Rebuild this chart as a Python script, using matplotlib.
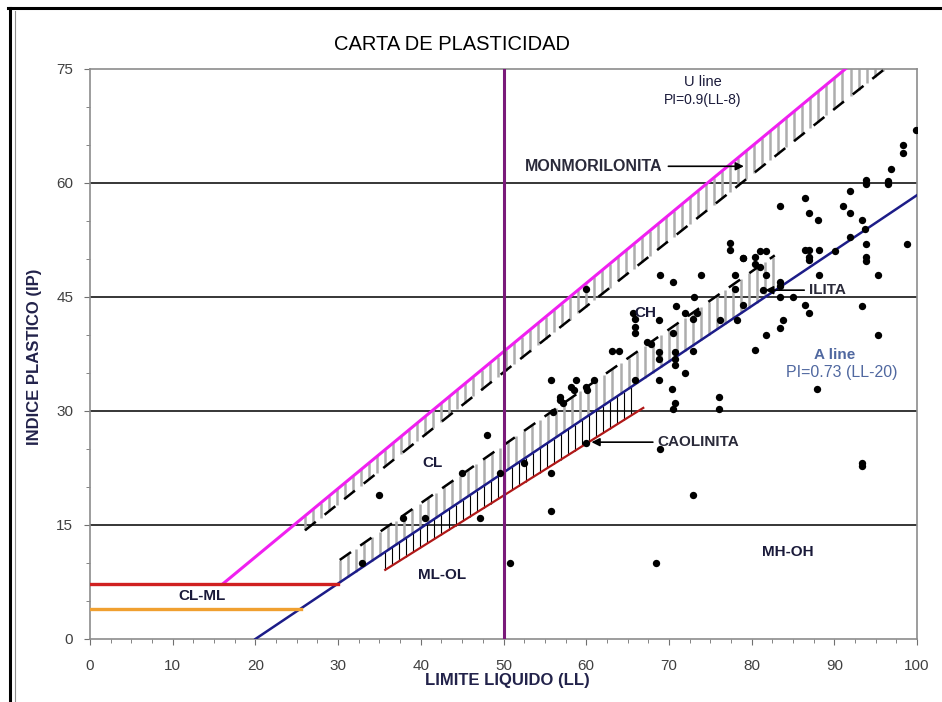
import numpy as np
import matplotlib
matplotlib.use("Agg")
import matplotlib.pyplot as plt
from matplotlib.lines import Line2D

plt.rcParams['font.family'] = ['Liberation Sans', 'DejaVu Sans']

# ---- chart data -------------------------------------------------------
title = "CARTA DE PLASTICIDAD"
x_label = "LIMITE LIQUIDO (LL)"
y_label = "INDICE PLASTICO (IP)"
x_ticks = [0, 10, 20, 30, 40, 50, 60, 70, 80, 90, 100]
y_ticks = [0, 15, 30, 45, 60, 75]
grid_levels = [15, 30, 45, 60]
ll_divider = 50

# Casagrande lines
u_slope, u_offset = 0.9, 8.0      # PI = 0.9 (LL - 8)
a_slope, a_offset = 0.73, 20.0    # PI = 0.73 (LL - 20)
clml_upper = 7.3
clml_lower = 4.0

# clay-mineral bands (start LL, end LL, PI at start, slope)
mont_band = (26.0, 97.1, 14.3, 0.866)   # lower dashed edge, below U line
ilita_band = (30.2, 82.8, 10.4, 0.762)  # upper dashed edge, above A line
caol_band = (35.7, 66.9, 9.1, 0.683)    # lower red edge, below A line

# soil samples: liquid limit and plasticity index
ll_values = [
    99.9, 98.3, 98.3, 96.9, 93.8, 93.8, 96.5, 96.5, 91.9, 86.5, 83.4, 91.0,
    86.9, 91.9, 88.0, 93.4, 93.7, 91.9, 93.8, 98.8, 93.8, 93.8, 95.3, 86.5,
    86.9, 88.1, 86.9, 87.0, 90.1, 88.1, 79.0, 80.4, 81.0, 81.8, 80.4, 81.0,
    77.4, 77.4, 78.9, 81.8, 83.4, 83.4, 83.4, 81.4, 85.0, 86.5, 86.9, 93.4,
    83.8, 83.4, 81.8, 95.3, 80.4, 87.9, 93.4, 93.4, 72.9, 68.4, 50.8,
    68.9, 70.5, 73.9, 78.0, 78.0, 73.0, 70.9, 71.9, 73.4, 72.9, 65.6, 65.9,
    65.9, 65.9, 67.4, 67.8, 68.8, 70.5, 63.1, 64.0, 68.8, 68.8, 70.7, 70.7,
    70.7, 72.9, 71.9, 68.8, 65.9, 60.9, 58.8, 58.5, 60.1, 70.4, 70.7, 76.1,
    76.1, 70.5, 56.8, 60.0, 78.2, 76.2, 79.0,
    55.8, 56.8, 57.2, 56.0, 48.0, 49.6, 45.0, 52.5, 55.8, 55.8, 47.1, 40.5,
    37.9, 35.0, 32.9, 68.9, 60.0, 58.2, 60.0,
]
pi_values = [
    67.0, 65.0, 64.0, 61.9, 60.4, 59.9, 60.3, 59.9, 58.9, 58.0, 57.0, 57.0,
    56.1, 56.0, 55.1, 55.1, 54.0, 52.9, 52.0, 52.0, 50.3, 49.8, 47.9, 51.2,
    51.2, 51.2, 50.3, 49.9, 51.1, 47.9, 50.1, 50.3, 51.0, 51.0, 49.4, 49.0,
    52.1, 51.2, 50.1, 47.9, 47.0, 46.4, 45.0, 45.9, 45.0, 43.9, 42.9, 43.8,
    42.0, 40.9, 40.0, 40.0, 38.0, 32.9, 23.1, 22.7, 19.0, 10.0, 10.0,
    47.9, 47.0, 47.9, 47.9, 46.1, 45.0, 43.8, 42.9, 42.9, 42.1, 42.9, 42.1,
    41.1, 40.2, 39.1, 38.8, 42.0, 40.2, 37.9, 37.9, 37.7, 36.9, 37.7, 36.9,
    36.1, 37.9, 35.0, 34.1, 34.1, 34.1, 34.1, 32.8, 32.8, 32.9, 31.1, 31.9,
    30.2, 30.2, 31.4, 46.1, 42.0, 42.0, 43.9,
    34.1, 31.9, 31.0, 29.9, 26.8, 21.9, 21.9, 23.1, 21.9, 16.9, 15.9, 15.9,
    15.9, 19.0, 10.0, 25.0, 25.8, 33.2, 33.2,
]


def u_line(ll):
    return u_slope * (np.asarray(ll) - u_offset)


def a_line(ll):
    return a_slope * (np.asarray(ll) - a_offset)


def band_edge(band, ll):
    start, _, pi0, slope = band
    return pi0 + slope * (np.asarray(ll) - start)


# ---- figure -----------------------------------------------------------
W, H = 942, 702
fig = plt.figure(figsize=(W / 100, H / 100), dpi=100)
ax = fig.add_axes([90 / W, 1 - 639 / H, 827 / W, 570 / H])
ax.set_xlim(0, 100)
ax.set_ylim(0, 75)

for lvl in grid_levels:
    ax.axhline(lvl, color='black', lw=1.1, zorder=1)

comb_step = 0.97
comb_color = '#ADADAD'

# montmorillonite band: grey comb between U line and dashed edge
xs = np.arange(mont_band[0], mont_band[1], comb_step)
tops = np.minimum(u_line(xs), 75)
bots = np.minimum(band_edge(mont_band, xs), 75)
ax.vlines(xs, bots, tops, colors=comb_color, lw=1.8, zorder=2)
xe = np.array([mont_band[0], mont_band[1]])
ax.plot(xe, band_edge(mont_band, xe), color='black', lw=1.8,
        dashes=(5.5, 4.5), zorder=3)

# illite band: grey comb between dashed edge and A line
xs = np.arange(ilita_band[0], ilita_band[1], comb_step)
ax.vlines(xs, a_line(xs), band_edge(ilita_band, xs), colors=comb_color,
          lw=1.8, zorder=2)
xe = np.array([ilita_band[0], ilita_band[1]])
ax.plot(xe, band_edge(ilita_band, xe), color='black', lw=1.8,
        dashes=(5.5, 4.5), zorder=3)

# kaolinite band: thin black hatching between red edge and A line
xs = np.arange(caol_band[0], caol_band[1] - 1.0, 0.85)
ax.vlines(xs, band_edge(caol_band, xs), a_line(xs), colors='black',
          lw=0.8, zorder=2)
xe = np.array([caol_band[0], caol_band[1]])
ax.plot(xe, band_edge(caol_band, xe), color='#B01818', lw=1.6, zorder=3)

# U line
u_start = clml_upper / u_slope + u_offset
u_end = 75 / u_slope + u_offset
xe = np.array([u_start, u_end])
ax.plot(xe, u_line(xe), color='#F020F0', lw=2.2, zorder=3)

# A line
xe = np.array([a_offset, 100])
ax.plot(xe, a_line(xe), color='#1C1C88', lw=1.8, zorder=3)

# CL-ML strip
ax.plot([0, clml_upper / a_slope + a_offset], [clml_upper, clml_upper],
        color='#D02020', lw=2.4, zorder=3)
ax.plot([0, clml_lower / a_slope + a_offset], [clml_lower, clml_lower],
        color='#F0A030', lw=2.4, zorder=3)

# LL = 50 divider
ax.axvline(ll_divider, color='#7A1A7A', lw=2.2, zorder=3)

# samples
ax.scatter(ll_values, pi_values, s=28, color='black', zorder=5, lw=0)

# ---- labels and arrows ------------------------------------------------
txt = '#1A1A3A'
lab = 11
ax.text(74.1, 73.3, "U line", ha='center', va='center', fontsize=10.5,
        color=txt)
ax.text(74.1, 70.9, "PI=0.9(LL-8)", ha='center', va='center', fontsize=10,
        color=txt)
ax.text(52.6, 62.2, "MONMORILONITA", ha='left', va='center', fontsize=11.5,
        fontweight='bold', color='#2A2A3A')
ax.annotate("", xy=(79.4, 62.2), xytext=(69.6, 62.2),
            arrowprops=dict(arrowstyle='-|>', color='black', lw=1.2,
                            mutation_scale=12), zorder=6)
ax.text(86.9, 45.9, "ILITA", ha='left', va='center', fontsize=lab,
        fontweight='bold', color='#2A2A3A')
ax.annotate("", xy=(81.3, 45.9), xytext=(86.7, 45.9),
            arrowprops=dict(arrowstyle='-|>', color='black', lw=1.2,
                            mutation_scale=12), zorder=6)
ax.text(68.6, 25.9, "CAOLINITA", ha='left', va='center', fontsize=lab,
        fontweight='bold', color='#2A2A3A')
ax.annotate("", xy=(60.3, 25.9), xytext=(68.4, 25.9),
            arrowprops=dict(arrowstyle='-|>', color='black', lw=1.2,
                            mutation_scale=12), zorder=6)
ax.text(90.0, 37.4, "A line", ha='center', va='center', fontsize=lab,
        fontweight='bold', color='#5068A0')
ax.text(90.9, 35.0, "PI=0.73 (LL-20)", ha='center', va='center',
        fontsize=11.5, color='#5068A0')
for lbl, lx, ly in [("CH", 67.2, 42.9), ("CL", 41.4, 23.2),
                    ("ML-OL", 42.6, 8.4), ("CL-ML", 13.5, 5.7),
                    ("MH-OH", 84.4, 11.4)]:
    ax.text(lx, ly, lbl, ha='center', va='center', fontsize=lab,
            fontweight='bold', color=txt, zorder=6)

# ---- axes styling -----------------------------------------------------
for side in ['left', 'right', 'top', 'bottom']:
    ax.spines[side].set_color('#8C8C8C')
    ax.spines[side].set_linewidth(1.2)
ax.set_xticks(x_ticks)
ax.set_yticks(y_ticks)
ax.set_xticks(np.arange(0, 100.1, 2.5), minor=True)
ax.set_yticks(np.arange(0, 75.1, 5), minor=True)
ax.tick_params(axis='both', which='both', direction='out', color='#707070',
               labelcolor='#404040', labelsize=11)
ax.tick_params(axis='x', which='major', length=4.5, pad=10)
ax.tick_params(axis='x', which='minor', length=3)
ax.tick_params(axis='y', which='major', length=4, pad=8)
ax.tick_params(axis='y', which='minor', length=3)

fig.text(452 / W, 1 - 45 / H, title, ha='center', va='center', fontsize=14.5,
         color='black')
fig.text(507 / W, 1 - 680 / H, x_label, ha='center', va='center',
         fontsize=12, fontweight='bold', color='#22224A')
fig.text(35 / W, 1 - 357 / H, y_label, ha='center', va='center',
         fontsize=12, fontweight='bold', color='#22224A', rotation=90)

# outer frame
fig.add_artist(Line2D([8 / W, 1], [1 - 8 / H, 1 - 8 / H], color='black',
                      lw=2.2, transform=fig.transFigure))
fig.add_artist(Line2D([10 / W, 10 / W], [0, 1 - 8 / H], color='black',
                      lw=2.2, transform=fig.transFigure))
fig.add_artist(Line2D([15 / W, 15 / W], [0, 1 - 11 / H], color='#909090',
                      lw=0.8, transform=fig.transFigure))

fig.savefig("out.png", dpi=100)
